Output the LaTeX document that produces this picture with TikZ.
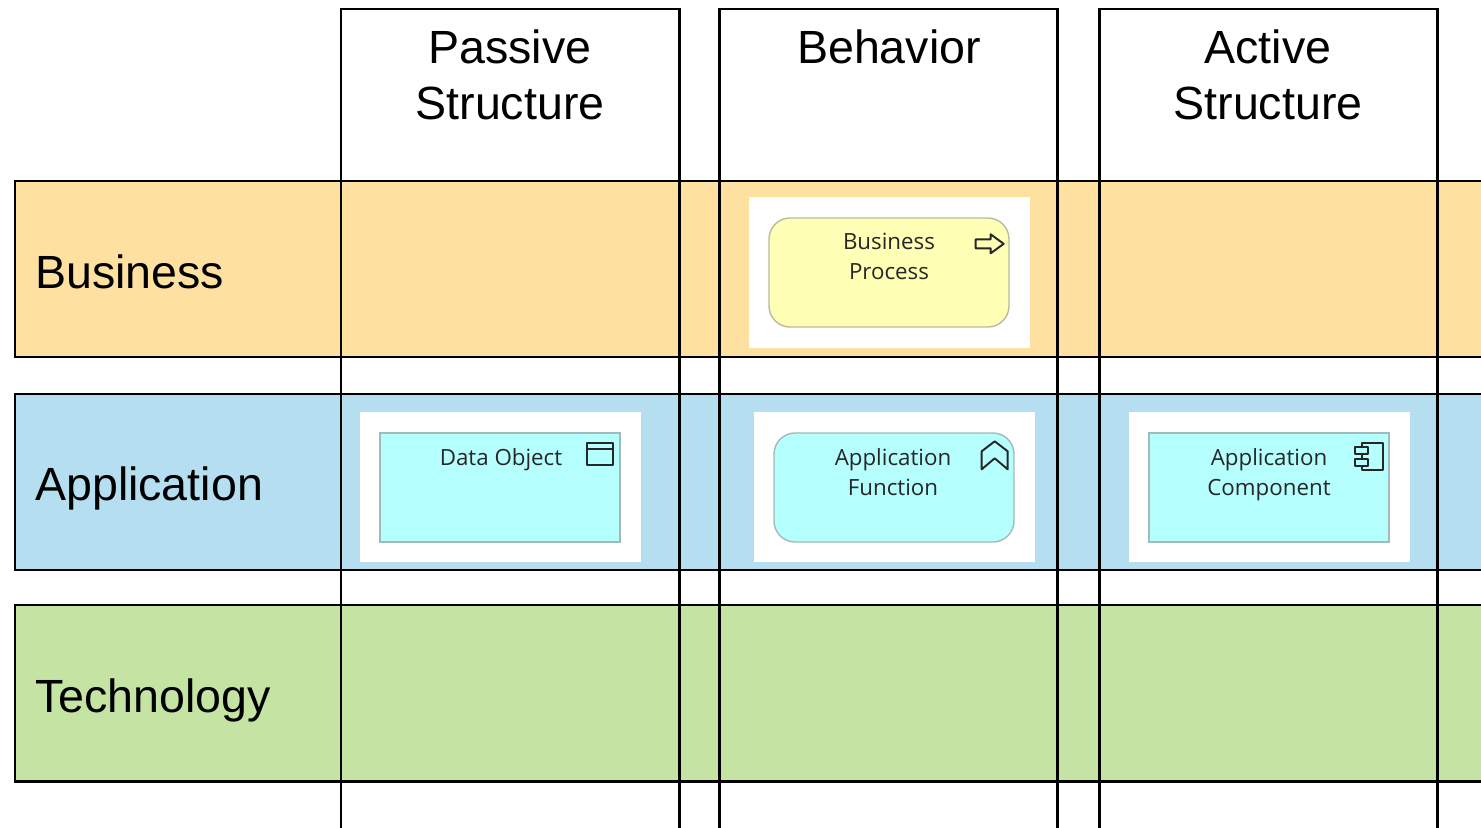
\documentclass[tikz,border=0pt]{standalone}
\usepackage{fontspec}
\setmainfont{Liberation Sans}
\newfontfamily\elemfont{Open Sans}
\usepackage{tikz}
\usetikzlibrary{calc}

\definecolor{busrow}{RGB}{254,224,160}
\definecolor{approw}{RGB}{181,223,241}
\definecolor{techrow}{RGB}{197,228,163}
\definecolor{busel}{RGB}{255,255,181}
\definecolor{appel}{RGB}{181,255,255}

\begin{document}
\begin{tikzpicture}[x=0.02cm,y=-0.02cm,
    heading/.style={font=\fontsize{26.5}{32}\selectfont,align=center,anchor=base},
    layername/.style={font=\fontsize{26.5}{32}\selectfont,anchor=base west},
    elemback/.style={fill=white,minimum width=5.62cm,minimum height=3.02cm,inner sep=0pt},
    elembox/.style={draw=#1!55!black!60,line width=0.8pt,minimum width=4.8cm,minimum height=2.18cm,inner sep=0pt},
    elemtext/.style={font=\elemfont\fontsize{12.7}{17}\selectfont,align=center,anchor=base,text=black!85},
    icon/.style={draw=black!85,line width=1.1pt,line join=round}]
            \useasboundingbox(0,0)rectangle(1481,828);
            \clip(0,0)rectangle(1481,828);

            \foreach \y/\c in{181/busrow,394/approw,605/techrow}{
            \draw[line width=1.7pt,fill=\c](15,\y)rectangle(1520,\y+176);
            }

            \node[elemback](bprocbg)at(889.5,272.5){};
            \node[elemback](dobjbg)at(500.5,487){};
            \node[elemback](afuncbg)at(894.5,487){};
            \node[elemback](acompbg)at(1269.5,487){};

            \node[elembox=busel,fill=busel,rounded corners=0.42cm](bproc)at(889,272.5){};
            \node[elembox=appel,fill=appel](dobj)at(500,487.5){};
            \node[elembox=appel,fill=appel,rounded corners=0.42cm](afunc)at(894,487.5){};
            \node[elembox=appel,fill=appel](acomp)at(1269,487.5){};

            % base anchor sits on the last line
            \node[elemtext](bproctext)at($(bproc.north)+(0,62)$){Business\\Process};
            \node[elemtext](dobjtext)at($(dobj.north)+(1,33)$){Data Object};
            \node[elemtext](afunctext)at($(afunc.north)+(-1,63)$){Application\\Function};
            \node[elemtext](acomptext)at($(acomp.north)+(0,63)$){Application\\Component};

            % icons
            \draw[icon,shift={(bproc.north east)}](-34,22)--(-19,22)--(-19,17)--(-6,26.5)--(-19,36)--(-19,31)--(-34,31)--cycle;
            \draw[icon,shift={(dobj.north east)}](-34,11)rectangle(-8,33) (-34,17)--(-8,17);
            \draw[icon,shift={(afunc.north east)}](-33,37)--(-33,19)--(-20,9)--(-7,19)--(-7,37)--(-20,26)--cycle;
            \draw[icon,shift={(acomp.north east)}](-28,11)rectangle(-7,38);
            \draw[icon,fill=appel,shift={(acomp.north east)}](-35,15)rectangle(-22,22) (-35,27)rectangle(-22,34);

            \foreach \x in{341,719,1099}{
            \draw[line width=1.7pt](\x,9)rectangle(\x+338.5,900);
            \draw[line width=1.7pt](\x,181)--(\x+338.5,181);
            }

            \node[heading](passive)at(510,120){Passive\\Structure};
            \node[heading](behavior)at(889,64){Behavior};
            \node[heading](active)at(1268,120){Active\\Structure};

            \node[layername](business)at(29,288){Business};
            \node[layername](application)at(29,500){Application};
            \node[layername](technology)at(29,712){Technology};

        \end{tikzpicture}
\end{document}
